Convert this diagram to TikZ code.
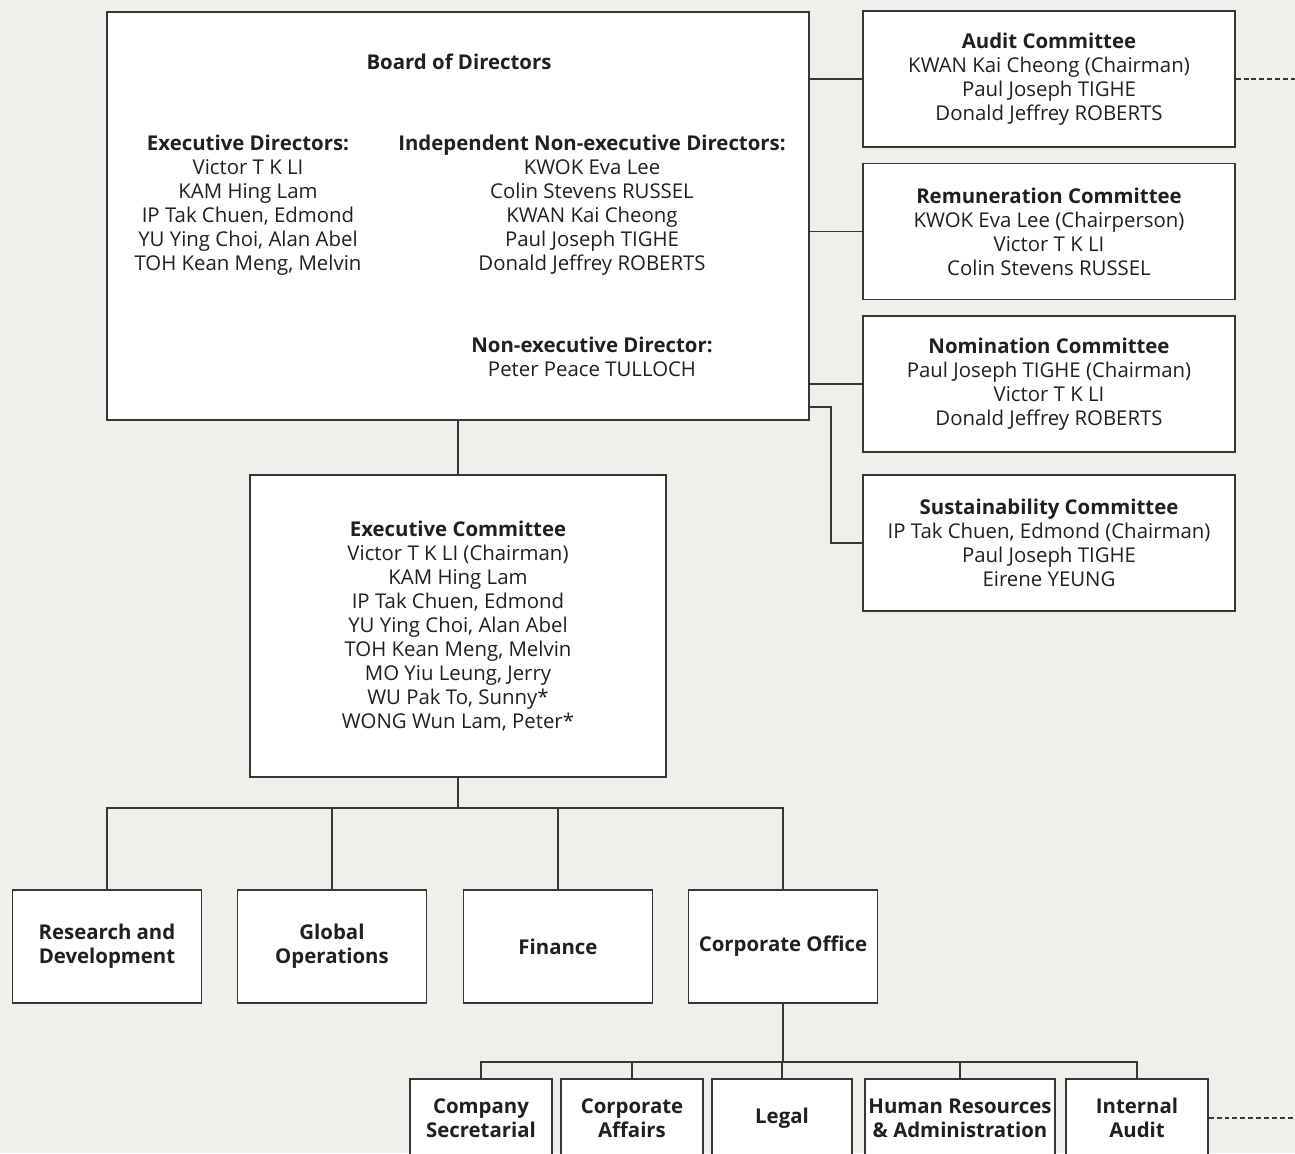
\documentclass[tikz,border=0pt]{standalone}
\usepackage{fontspec}
\setmainfont{Open Sans}
\usetikzlibrary{positioning}
\definecolor{bgcol}{RGB}{239,240,235}
\definecolor{linecol}{RGB}{55,55,55}
\definecolor{textcol}{RGB}{35,31,32}

\begin{document}
\begin{tikzpicture}
  [x=0.02cm,y=-0.02cm,font=\fontsize{11.6}{13.66}\selectfont,text=textcol,
   box/.style={shape=rectangle,draw=linecol,fill=white,line width=0.8pt,
     inner sep=0pt,align=center},
   txt/.style={align=center,inner sep=0pt},
   comm/.style={box,minimum width=7.44cm,minimum height=2.72cm},
   dept/.style={box,font=\fontsize{11.6}{13.66}\selectfont\bfseries,
     minimum width=3.78cm,minimum height=2.26cm},
   sub/.style={box,font=\fontsize{11.6}{13.66}\selectfont\bfseries,
     minimum width=2.84cm,minimum height=1.56cm},
   link/.style={draw=linecol,line width=0.8pt},
   dot/.style={draw=linecol,line width=0.8pt,dash pattern=on 2.8pt off 1.7pt}]
  \useasboundingbox (0,0) rectangle (1295,1153);
  \clip (0,0) rectangle (1295,1153);
  \fill [bgcol] (0,0) rectangle (1295,1153);

  % board
  \node (board) [box,minimum width=14.04cm,minimum height=8.16cm] at (458,216) {};
  \node (boardtitle) [txt] at (459,62) {\textbf{Board of Directors}};
  \node (execdir) [txt] at (248,205) {\textbf{Executive Directors:}\\Victor T K LI\\KAM Hing Lam\\IP Tak Chuen, Edmond\\YU Ying Choi, Alan Abel\\TOH Kean Meng, Melvin};
  \node (inedir) [txt] at (592,205) {\textbf{Independent Non-executive Directors:}\\KWOK Eva Lee\\Colin Stevens RUSSEL\\KWAN Kai Cheong\\Paul Joseph TIGHE\\Donald Jeffrey ROBERTS};
  \node (nedir) [txt] at (592,357) {\textbf{Non-executive Director:}\\Peter Peace TULLOCH};

  % committees
  \node (audit) [comm] at (1049,79) {\textbf{Audit Committee}\\KWAN Kai Cheong (Chairman)\\Paul Joseph TIGHE\\Donald Jeffrey ROBERTS};
  \node (remun) [comm] at (1049,231.5) {\textbf{Remuneration Committee}\\KWOK Eva Lee (Chairperson)\\Victor T K LI\\Colin Stevens RUSSEL};
  \node (nomin) [comm] at (1049,384) {\textbf{Nomination Committee}\\Paul Joseph TIGHE (Chairman)\\Victor T K LI\\Donald Jeffrey ROBERTS};
  \node (sustain) [comm] at (1049,543) {\textbf{Sustainability Committee}\\IP Tak Chuen, Edmond (Chairman)\\Paul Joseph TIGHE\\Eirene YEUNG};

  \node (exco) [box,minimum width=8.32cm,minimum height=6.04cm] at (458,626) {\textbf{Executive Committee}\\Victor T K LI (Chairman)\\KAM Hing Lam\\IP Tak Chuen, Edmond\\YU Ying Choi, Alan Abel\\TOH Kean Meng, Melvin\\MO Yiu Leung, Jerry\\WU Pak To, Sunny*\\WONG Wun Lam, Peter*};

  % departments
  \node (rnd) [dept] at (107,946.5) {Research and\\Development};
  \node (glob) [dept] at (332,946.5) {Global\\Operations};
  \node (fin) [dept] at (558,946.5) {Finance};
  \node (corp) [dept] at (783,946.5) {Corporate Office};

  \node (cosec) [sub] at (481,1118) {Company\\Secretarial};
  \node (coaff) [sub] at (632,1118) {Corporate\\Affairs};
  \node (legal) [sub,minimum width=2.8cm] at (782,1118) {Legal};
  \node (hr) [sub,minimum width=3.8cm] at (960,1118) {Human Resources\\\& Administration};
  \node (intaud) [sub] at (1137,1118) {Internal\\Audit};

  \coordinate (split1) at (458,808);
  \coordinate (split2) at (783,1062);
  \coordinate (sbend) at (831,407);
  \coordinate (rim) at (1300,0);

  \draw [link] (audit.west) -- (audit.west -| board.east);
  \draw [link] (remun.west) -- (remun.west -| board.east);
  \draw [link] (nomin.west) -- (nomin.west -| board.east);
  \draw [link] (sbend -| board.east) -- (sbend) |- (sustain.west);
  \draw [link] (board.south) -- (exco.north);

  \draw [link] (exco.south) -- (split1);
  \draw [link] (rnd.north) |- (split1) -| (corp.north);
  \draw [link] (glob.north) -- (glob.north |- split1);
  \draw [link] (fin.north) -- (fin.north |- split1);

  \draw [link] (corp.south) -- (split2);
  \draw [link] (cosec.north) |- (split2) -| (intaud.north);
  \draw [link] (coaff.north) -- (coaff.north |- split2);
  \draw [link] (legal.north |- split2) -- (legal.north);
  \draw [link] (hr.north) -- (hr.north |- split2);

  \draw [dot] (audit.east) -- (audit.east -| rim);
  \draw [dot] (intaud.east) -- (intaud.east -| rim);
\end{tikzpicture}
\end{document}
